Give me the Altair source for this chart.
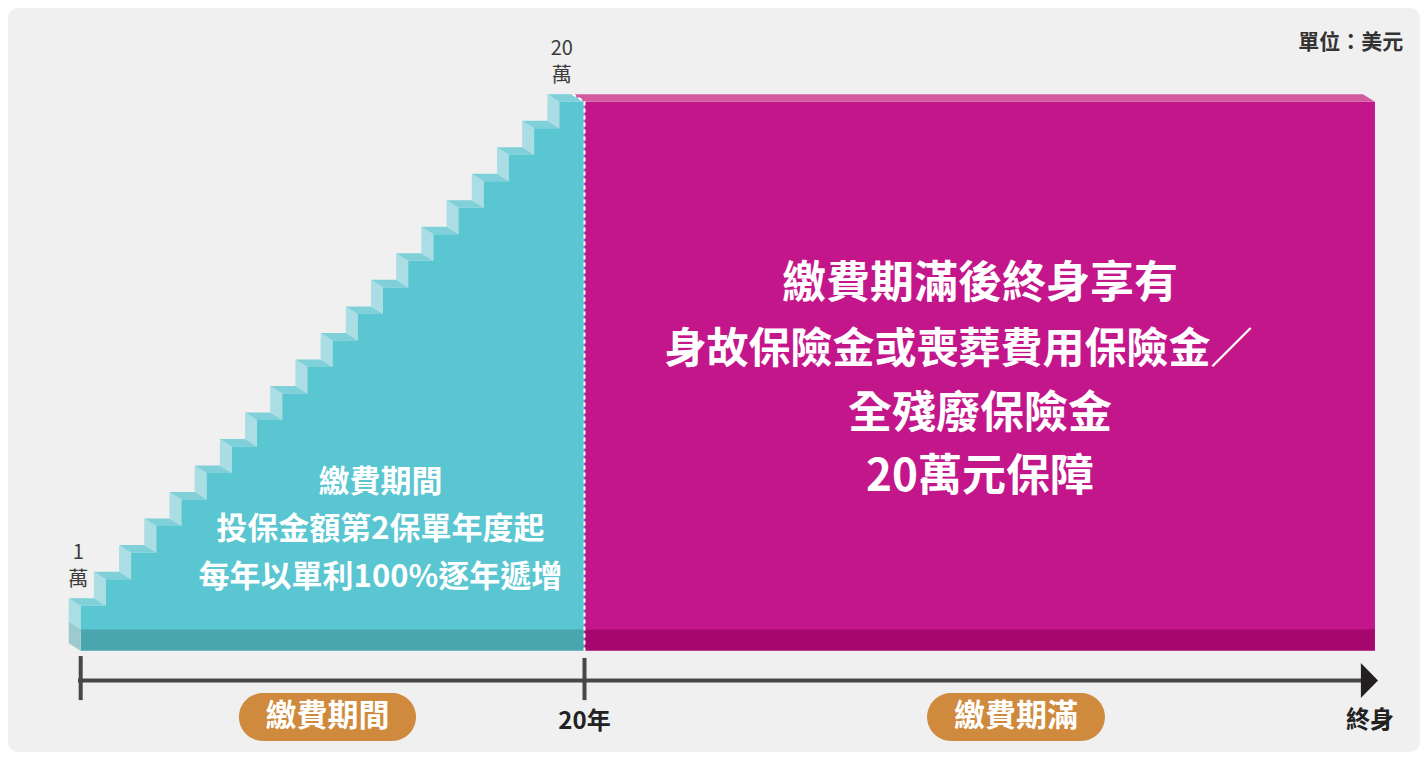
import altair as alt
import pandas as pd

# ---------------- data ----------------
YEARS = [1, 2, 3, 4, 5, 6, 7, 8, 9, 10, 11, 12, 13, 14, 15, 16, 17, 18, 19, 20]
AMOUNT_WAN = [1, 2, 3, 4, 5, 6, 7, 8, 9, 10, 11, 12, 13, 14, 15, 16, 17, 18, 19, 20]
PAY_END_YEAR = 20
LIFE_END = 51.38          # "終身" end of the x axis (beyond the 20-year scale)
COVER_WAN = 20
STEP_LABEL_STEPS = [1, 20]
STEP_LABEL_NUM = ["1", "20"]
STEP_LABEL_UNIT = ["萬", "萬"]
STEP_LABEL_X = [-0.1, 19.1]
TEAL_TEXT = ["繳費期間", "投保金額第2保單年度起", "每年以單利100%逐年遞增"]
MAGENTA_TEXT = ["繳費期滿後終身享有", "身故保險金或喪葬費用保險金／", "全殘廢保險金", "20萬元保障"]
PILL_TEXT = ["繳費期間", "繳費期滿"]
AXIS_TEXT = ["20年", "終身"]
UNIT_TEXT = "單位：美元"

# ---------------- style ----------------
FONT = "Noto Sans CJK TC"
D = 0.476    # 3D depth in x units
DY = 0.283   # 3D depth in y units
BAND_LO, BAND_HI = -0.70, 0.10
TEAL_BODY, TEAL_RISER, TEAL_TOP, TEAL_BAND, TEAL_BAND_SIDE = "#5ac6d1", "#aadee4", "#7fd0d9", "#49a6af", "#9dcace"
MAG_BODY, MAG_TOP, MAG_BAND = "#c4168b", "#d35aa0", "#a5076f"
PILL = "#cf8a3e"

XS = alt.Scale(domain=[0, 20], range=[72.7, 576.5], nice=False, zero=False)
YS = alt.Scale(domain=[0, 20], range=[624.2, 93.7], nice=False, zero=False)


def X(f):
    return alt.X(f, type="quantitative", scale=XS, axis=None)


def Y(f):
    return alt.Y(f, type="quantitative", scale=YS, axis=None)


def X2(f):
    return alt.X2(f)


def Y2(f):
    return alt.Y2(f)


# ---------------- tables ----------------
starts = [y - 1 for y in YEARS]
# each step body runs to the end of the payment period so that bodies overlap (no seams)
body_df = pd.DataFrame({"x": starts, "x2": [PAY_END_YEAR] * len(YEARS), "y": [0] * len(YEARS), "y2": AMOUNT_WAN})

riser_rows, top_rows = [], []
for i, (s, e, a) in enumerate(zip(starts, YEARS, AMOUNT_WAN)):
    prev = AMOUNT_WAN[i - 1] if i > 0 else 0
    riser_rows.append({"id": i, "x": s - D, "y": a + DY, "y2": prev + DY})
    riser_rows.append({"id": i, "x": s, "y": a, "y2": prev})
    top_rows.append({"id": i, "y": a, "x": s, "x2": e})
    top_rows.append({"id": i, "y": a + DY, "x": s - D, "x2": e - D})
riser_df = pd.DataFrame(riser_rows)
top_df = pd.DataFrame(top_rows)

mag_body_df = pd.DataFrame({"x": [PAY_END_YEAR], "x2": [LIFE_END], "y": [0], "y2": [COVER_WAN]})
mag_top_df = pd.DataFrame({"id": [0, 0], "y": [COVER_WAN, COVER_WAN + DY],
                           "x": [PAY_END_YEAR, PAY_END_YEAR - D], "x2": [LIFE_END, LIFE_END - D]})

band_df = pd.DataFrame({"x": [0, PAY_END_YEAR], "x2": [PAY_END_YEAR, LIFE_END],
                        "y": [BAND_LO] * 2, "y2": [BAND_HI] * 2, "c": ["t", "m"]})
band_side_df = pd.DataFrame({"id": [0, 0], "x": [-D, 0], "y": [BAND_HI + DY, BAND_HI],
                             "y2": [BAND_LO + DY, BAND_LO]})

dash_df = pd.DataFrame({"k": [0, 1, 2], "x": [PAY_END_YEAR - D, PAY_END_YEAR, PAY_END_YEAR],
                        "y": [COVER_WAN + DY, COVER_WAN, BAND_LO]})

AXIS_Y = -1.82
axis_df = pd.DataFrame({"x": [-0.107], "x2": [50.83], "y": [AXIS_Y]})
tick_df = pd.DataFrame({"x": [0, PAY_END_YEAR], "y": [-0.90, -0.97], "y2": [-2.56, -2.56]})
arrow_df = pd.DataFrame({"x": [51.16], "y": [AXIS_Y]})

pill_df = pd.DataFrame({"x": [6.28, 33.6], "x2": [13.31, 40.66], "y": [-2.29, -2.29], "y2": [-4.10, -4.10],
                        "xc": [9.795, 37.13], "yc": [-3.20, -3.20], "t": PILL_TEXT})
axis_text_df = pd.DataFrame({"x": [PAY_END_YEAR, 51.18], "y": [-3.39, -3.36], "t": AXIS_TEXT})

lab_amounts = [AMOUNT_WAN[s - 1] for s in STEP_LABEL_STEPS]
step_label_df = pd.DataFrame({"x": STEP_LABEL_X, "y": lab_amounts, "n": STEP_LABEL_NUM, "u": STEP_LABEL_UNIT})

teal_text_df = pd.DataFrame({"x": [11.9] * 3, "y": [5.62, 3.85, 2.05], "t": TEAL_TEXT})
mag_text_df = pd.DataFrame({"x": [35.7, 34.85, 35.7, 35.7], "y": [13.08, 10.63, 8.18, 5.81],
                            "fs": [44, 42, 44, 44], "t": MAGENTA_TEXT})
unit_df = pd.DataFrame({"x": [52.5], "y": [22.21], "t": [UNIT_TEXT]})

# ---------------- layers ----------------
riser = alt.Chart(riser_df).mark_area(color=TEAL_RISER, orient="vertical").encode(
    x=X("x"), y=alt.Y("y", type="quantitative", scale=YS, axis=None, stack=None), y2=Y2("y2"), detail="id:N")
tops = alt.Chart(top_df).mark_area(color=TEAL_TOP, orient="horizontal").encode(
    y=Y("y"), x=alt.X("x", type="quantitative", scale=XS, axis=None, stack=None), x2=X2("x2"), detail="id:N")
body = alt.Chart(body_df).mark_rect(color=TEAL_BODY).encode(x=X("x"), x2=X2("x2"), y=Y("y"), y2=Y2("y2"))
mag_body = alt.Chart(mag_body_df).mark_rect(color=MAG_BODY).encode(x=X("x"), x2=X2("x2"), y=Y("y"), y2=Y2("y2"))
mag_top = alt.Chart(mag_top_df).mark_area(color=MAG_TOP, orient="horizontal").encode(
    y=Y("y"), x=alt.X("x", type="quantitative", scale=XS, axis=None, stack=None), x2=X2("x2"), detail="id:N")
band = alt.Chart(band_df).mark_rect().encode(
    x=X("x"), x2=X2("x2"), y=Y("y"), y2=Y2("y2"),
    color=alt.Color("c:N", scale=alt.Scale(domain=["t", "m"], range=[TEAL_BAND, MAG_BAND]), legend=None))
band_side = alt.Chart(band_side_df).mark_area(color=TEAL_BAND_SIDE, orient="vertical").encode(
    x=X("x"), y=alt.Y("y", type="quantitative", scale=YS, axis=None, stack=None), y2=Y2("y2"), detail="id:N")
dash = alt.Chart(dash_df).mark_line(color="white", strokeWidth=2, strokeDash=[4, 3]).encode(
    x=X("x"), y=Y("y"), order="k:Q")

axis_line = alt.Chart(axis_df).mark_rule(color="#474747", strokeWidth=4).encode(x=X("x"), x2=X2("x2"), y=Y("y"))
ticks = alt.Chart(tick_df).mark_rule(color="#474747", strokeWidth=4).encode(x=X("x"), y=Y("y"), y2=Y2("y2"))
arrow = alt.Chart(arrow_df).mark_point(
    shape="M -0.49 -1 L 0.49 0 L -0.49 1 Z", size=1225, filled=True, color="#231f20", opacity=1
).encode(x=X("x"), y=Y("y"))

pills = alt.Chart(pill_df).mark_rect(color=PILL, cornerRadius=24).encode(x=X("x"), x2=X2("x2"), y=Y("y"), y2=Y2("y2"))
pill_text = alt.Chart(pill_df).mark_text(font=FONT, fontSize=31, fontWeight="bold", color="white",
                                         baseline="middle", align="center").encode(x=X("xc"), y=Y("yc"), text="t:N")
axis_text = alt.Chart(axis_text_df).mark_text(font=FONT, fontSize=24, fontWeight="bold", color="#222222",
                                              baseline="middle", align="center").encode(x=X("x"), y=Y("y"), text="t:N")
label_num = alt.Chart(step_label_df).mark_text(font=FONT, fontSize=20, color="#3a3a3a", baseline="middle",
                                               align="center", dy=-53).encode(x=X("x"), y=Y("y"), text="n:N")
label_unit = alt.Chart(step_label_df).mark_text(font=FONT, fontSize=20, color="#3a3a3a", baseline="middle",
                                                align="center", dy=-26).encode(x=X("x"), y=Y("y"), text="u:N")
teal_text = alt.Chart(teal_text_df).mark_text(font=FONT, fontSize=31, fontWeight="bold", color="white",
                                              baseline="middle", align="center").encode(x=X("x"), y=Y("y"), text="t:N")
mag_text = alt.Chart(mag_text_df).mark_text(font=FONT, fontWeight="bold", color="white",
                                            baseline="middle", align="center").encode(
    x=X("x"), y=Y("y"), text="t:N", size=alt.Size("fs:Q", scale=None, legend=None))
unit_text = alt.Chart(unit_df).mark_text(font=FONT, fontSize=21, fontWeight="bold", color="#333333",
                                         baseline="middle", align="right").encode(x=X("x"), y=Y("y"), text="t:N")

chart = alt.layer(
    riser, tops, body, mag_body, mag_top, band, band_side, dash,
    axis_line, ticks, arrow, pills, pill_text, axis_text, label_num, label_unit, teal_text, mag_text, unit_text
).properties(
    width=1412, height=744, padding=0, autosize="none", background="white"
).configure_view(fill="#eff0ef", stroke=None, cornerRadius=10)

chart.save("out.html", embed_options={"renderer": "svg", "actions": False})
